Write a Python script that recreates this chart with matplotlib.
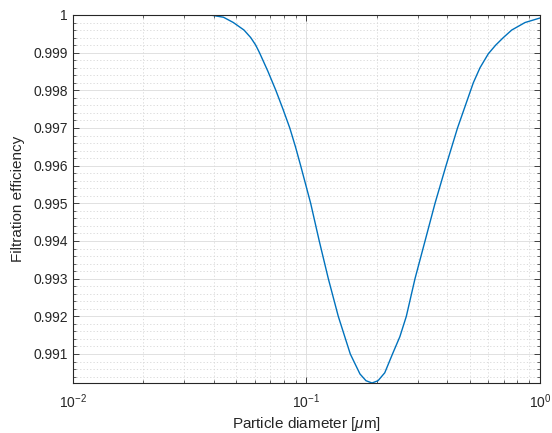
import matplotlib
matplotlib.use("Agg")
import matplotlib.pyplot as plt
from matplotlib.ticker import FixedLocator, MultipleLocator, LogLocator, NullFormatter

plt.rcParams['font.family'] = ['Liberation Sans', 'DejaVu Sans']
plt.rcParams['mathtext.fontset'] = 'custom'
plt.rcParams['mathtext.rm'] = 'Liberation Sans'
plt.rcParams['mathtext.it'] = 'Liberation Sans:italic'

diameter = [0.0100, 0.0214, 0.0387, 0.0441, 0.0486, 0.0540, 0.0577, 0.0606, 0.0629,
            0.0684, 0.0739, 0.0793, 0.0848, 0.0897, 0.0944, 0.1042, 0.1134, 0.1240, 0.1368,
            0.1540, 0.1694, 0.1798, 0.1908, 0.2024, 0.2163, 0.2335, 0.2511, 0.2676, 0.2915,
            0.3218, 0.3551, 0.3958, 0.4433, 0.5180, 0.5534, 0.6006, 0.6459, 0.6965, 0.7564,
            0.8627, 1.0000]
efficiency = [1.00000, 1.00000, 1.00000, 0.99994, 0.99980, 0.99960, 0.99940, 0.99920, 0.99900,
              0.99850, 0.99800, 0.99750, 0.99700, 0.99650, 0.99600, 0.99500, 0.99400, 0.99300, 0.99200,
              0.99100, 0.99047, 0.99029, 0.99023, 0.99029, 0.99050, 0.99100, 0.99146, 0.99200, 0.99300,
              0.99400, 0.99500, 0.99600, 0.99700, 0.99820, 0.99860, 0.99897, 0.99920, 0.99940, 0.99960,
              0.99980, 0.99992]
ytick_vals = [0.991, 0.992, 0.993, 0.994, 0.995, 0.996, 0.997, 0.998, 0.999, 1.0]
ytick_labels = ['0.991', '0.992', '0.993', '0.994', '0.995', '0.996', '0.997', '0.998', '0.999', '1']

fig = plt.figure(figsize=(5.52, 4.33), dpi=100)
ax = fig.add_axes([0.1322, 0.1155, 0.8461, 0.8499])

ax.plot(diameter, efficiency, color='#0072BD', lw=1.0)
ax.set_xscale('log')
ax.set_xlim(0.01, 1)
ax.set_ylim(min(efficiency), 1.0)

ax.yaxis.set_major_locator(FixedLocator(ytick_vals))
ax.set_yticklabels(ytick_labels)
ax.yaxis.set_minor_locator(MultipleLocator(0.0002))
ax.xaxis.set_major_locator(LogLocator(base=10, numticks=10))
ax.xaxis.set_minor_locator(LogLocator(base=10, subs=[2, 3, 4, 5, 6, 7, 8, 9], numticks=20))
ax.xaxis.set_minor_formatter(NullFormatter())

edge = '#262626'
for s in ax.spines.values():
    s.set_color(edge)
    s.set_linewidth(0.8)
ax.tick_params(which='both', direction='in', top=True, right=True, colors=edge,
               labelcolor=edge, labelsize=10)
ax.tick_params(which='major', length=4, width=0.6)
ax.tick_params(which='minor', length=2.5, width=0.5)
ax.tick_params(axis='x', which='major', pad=7)

ax.grid(True, which='major', color='#dcdcdc', lw=0.6, ls='-')
ax.grid(True, which='minor', color='#d6d6d6', lw=0.6, ls=(0, (1.5, 2.5)))
ax.set_axisbelow(True)

ax.set_xlabel(r'Particle diameter [$\mu$m]', fontsize=11, color=edge, labelpad=3)
ax.set_ylabel('Filtration efficiency', fontsize=11, color=edge, labelpad=6)

fig.savefig('out.png', dpi=100)
